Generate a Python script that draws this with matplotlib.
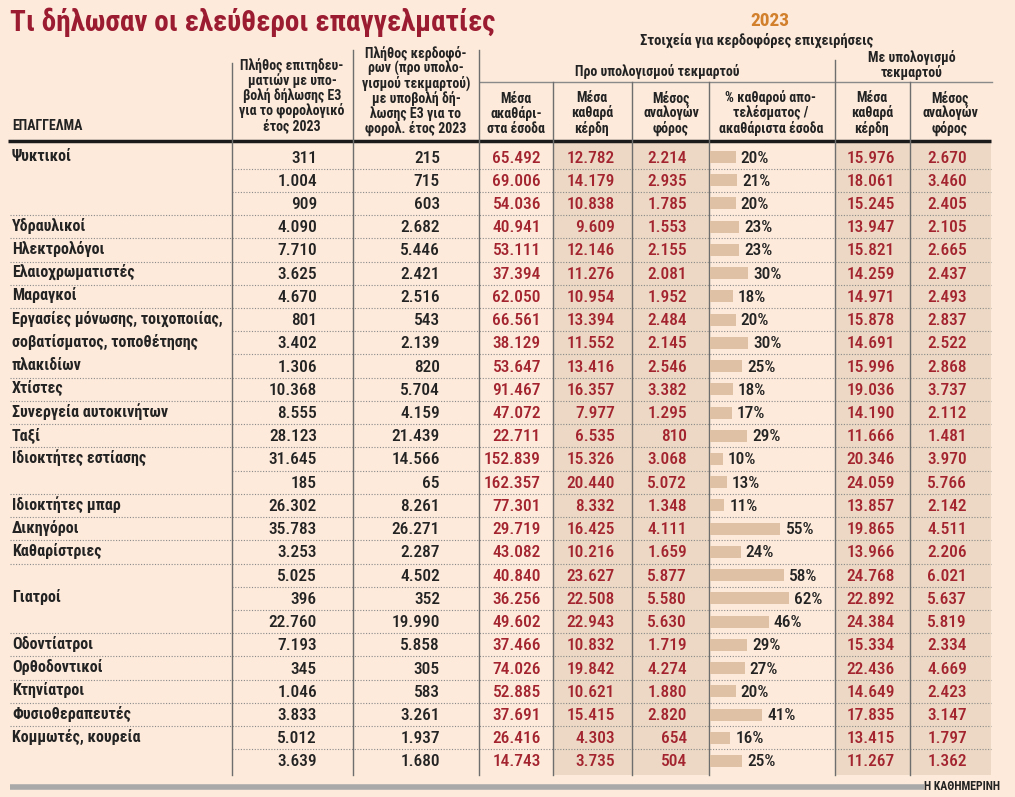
import matplotlib
matplotlib.use('Agg')
import matplotlib.pyplot as plt
from matplotlib import font_manager
from matplotlib.patches import Rectangle

# pick a narrow face if one is installed, else plain Roboto with smaller sizes
available = {f.name for f in font_manager.fontManager.ttflist}
narrow_faces = ['Roboto Condensed', 'Liberation Sans Narrow', 'Fira Sans Condensed',
                'Open Sans Condensed', 'PT Sans Narrow']
face = next((f for f in narrow_faces if f in available), 'Roboto')
scale = 1.0 if face != 'Roboto' else 0.86
plt.rcParams['font.family'] = [face, 'Roboto', 'DejaVu Sans']

# ---- data ----
groups = ["Ψυκτικοί", "Υδραυλικοί", "Ηλεκτρολόγοι", "Ελαιοχρωματιστές", "Μαραγκοί",
          "Εργασίες μόνωσης, τοιχοποιίας,\nσοβατίσματος, τοποθέτησης\nπλακιδίων",
          "Χτίστες", "Συνεργεία αυτοκινήτων", "Ταξί", "Ιδιοκτήτες εστίασης",
          "Ιδιοκτήτες μπαρ", "Δικηγόροι", "Καθαρίστριες", "Γιατροί", "Οδοντίατροι",
          "Ορθοδοντικοί", "Κτηνίατροι", "Φυσιοθεραπευτές", "Κομμωτές, κουρεία"]
group_sizes = [3, 1, 1, 1, 1, 3, 1, 1, 1, 2, 1, 1, 1, 3, 1, 1, 1, 1, 2]
label_offset = [0, 0, 0, 0, 0, 0, 0, 0, 0, 0, 0, 0, 0, 1, 0, 0, 0, 0, 0]

total = [311, 1004, 909, 4090, 7710, 3625, 4670, 801, 3402, 1306, 10368, 8555, 28123,
         31645, 185, 26302, 35783, 3253, 5025, 396, 22760, 7193, 345, 1046, 3833, 5012, 3639]
profitable = [215, 715, 603, 2682, 5446, 2421, 2516, 543, 2139, 820, 5704, 4159, 21439,
              14566, 65, 8261, 26271, 2287, 4502, 352, 19990, 5858, 305, 583, 3261, 1937, 1680]
gross = [65492, 69006, 54036, 40941, 53111, 37394, 62050, 66561, 38129, 53647, 91467, 47072,
         22711, 152839, 162357, 77301, 29719, 43082, 40840, 36256, 49602, 37466, 74026, 52885,
         37691, 26416, 14743]
net = [12782, 14179, 10838, 9609, 12146, 11276, 10954, 13394, 11552, 13416, 16357, 7977, 6535,
       15326, 20440, 8332, 16425, 10216, 23627, 22508, 22943, 10832, 19842, 10621, 15415, 4303, 3735]
tax = [2214, 2935, 1785, 1553, 2155, 2081, 1952, 2484, 2145, 2546, 3382, 1295, 810, 3068, 5072,
       1348, 4111, 1659, 5877, 5580, 5630, 1719, 4274, 1880, 2820, 654, 504]
pct = [20, 21, 20, 23, 23, 30, 18, 20, 30, 25, 18, 17, 29, 10, 13, 11, 55, 24, 58, 62, 46, 29,
       27, 20, 41, 16, 25]
net_presumed = [15976, 18061, 15245, 13947, 15821, 14259, 14971, 15878, 14691, 15996, 19036,
                14190, 11666, 20346, 24059, 13857, 19865, 13966, 24768, 22892, 24384, 15334,
                22436, 14649, 17835, 13415, 11267]
tax_presumed = [2670, 3460, 2405, 2105, 2665, 2437, 2493, 2837, 2522, 2868, 3737, 2112, 1481,
                3970, 5766, 2142, 4511, 2206, 6021, 5637, 5819, 2334, 4669, 2423, 3147, 1797, 1362]

head1 = "Πλήθος επιτηδευ-\nματιών με υπο-\nβολή δήλωσης Ε3\nγια το φορολογικό\nέτος 2023"
head2 = "Πλήθος κερδοφό-\nρων (προ υπολο-\nγισμού τεκμαρτού)\nμε υποβολή δή-\nλωσης Ε3 για το\nφορολ. έτος 2023"
subheads = ["Μέσα\nακαθάρι-\nστα έσοδα", "Μέσα\nκαθαρά\nκέρδη", "Μέσος\nαναλογών\nφόρος",
            "% καθαρού απο-\nτελέσματος /\nακαθάριστα έσοδα", "Μέσα\nκαθαρά\nκέρδη",
            "Μέσος\nαναλογών\nφόρος"]

BG = '#fdeadb'
SHADE = '#ecd8c4'
BAR = '#dfc2a5'
RED = '#a3242f'
DARK = '#232323'
GRID = '#8a8a8a'


def fmt(v):
    return f"{v:,}".replace(",", ".")


fig = plt.figure(figsize=(10.15, 7.97), dpi=100, facecolor=BG)
ax = fig.add_axes([0, 0, 1, 1])
ax.set_xlim(0, 1015)
ax.set_ylim(797, 0)
ax.axis('off')

n = len(total)
row0, step = 157, 23.23
ys = [row0 + i * step for i in range(n)]
top, bottom = 142, 775

# shaded columns
for x0, x1 in [(553, 632), (632, 709), (835, 910), (910, 991)]:
    ax.add_patch(Rectangle((x0, top), x1 - x0, bottom - top, color=SHADE, lw=0, zorder=0))

# title block
ax.text(10, 22, "Τι δήλωσαν οι ελεύθεροι επαγγελματίες", fontsize=21 * scale, fontweight='bold',
        color='#9b1c30', va='center', ha='left')
ax.text(770, 21, "2023", fontsize=14 * scale, fontweight='bold', color='#d2802c',
        ha='center', va='center')
ax.text(757, 40, "Στοιχεία για κερδοφόρες επιχειρήσεις", fontsize=10.5 * scale, fontweight='bold',
        color=DARK, ha='center', va='center')

# header texts
hs = 10 * scale
hk = dict(fontsize=hs, fontweight='bold', color=DARK, ha='center', va='bottom', linespacing=1.0)
ax.text(12, 133, "ΕΠΑΓΓΕΛΜΑ", fontsize=hs, fontweight='bold', color=DARK, ha='left', va='bottom')
ax.text(292, 133, head1, **hk)
ax.text(416, 136, head2, **hk)
ax.text(657, 71, "Προ υπολογισμού τεκμαρτού", **{**hk, 'va': 'center'})
ax.text(912, 65, "Με υπολογισμό\nτεκμαρτού", **{**hk, 'va': 'center'})
for xc, s in zip([516, 592, 671, 771, 872, 950], subheads):
    ax.text(xc, 136, s, **{**hk, 'linespacing': 1.05})

# frame lines
ax.plot([8, 991], [141, 141], color='#1a1a1a', lw=2.5, solid_capstyle='butt')
ax.plot([480, 992], [82, 82], color=GRID, lw=1)
lk = dict(color='#6e6e6e', lw=1)
ax.plot([232, 232], [63, bottom], **lk)
ax.plot([353, 353], [50, bottom], **lk)
ax.plot([479, 479], [50, bottom], **lk)
ax.plot([835, 835], [60, bottom], **lk)
for x in [553, 632, 709, 910]:
    ax.plot([x, x], [82, bottom], **lk)
ax.plot([10, 924], [787, 787], color='#a9a9a9', lw=4, solid_capstyle='butt')
ax.text(1000, 787, "Η ΚΑΘΗΜΕΡΙΝΗ", fontsize=8.5 * scale, fontweight='bold', color=DARK,
        ha='right', va='center')

# row separators and occupation labels
start = 0
for g, size in enumerate(group_sizes):
    for k in range(size):
        i = start + k
        if i == n - 1:
            continue
        ysep = (ys[i] + ys[i + 1]) / 2
        x0 = 10 if k == size - 1 else 232
        ax.plot([x0, 991], [ysep, ysep], color=GRID, lw=0.8, ls=(0, (1, 1.5)), zorder=1)
    for j, line in enumerate(groups[g].split('\n')):
        ax.text(12, ys[start + label_offset[g] + j] - 1, line, fontsize=11.5 * scale,
                fontweight='bold', color=DARK, ha='left', va='center')
    start += size

# numbers
nk = dict(fontsize=12.5 * scale, fontweight='medium', va='center', ha='right')
cols = [(317, total, DARK), (440, profitable, DARK), (541, gross, RED), (615, net, RED),
        (687, tax, RED), (895, net_presumed, RED), (967, tax_presumed, RED)]
for xr, vals, c in cols:
    for y, v in zip(ys, vals):
        ax.text(xr, y + 1, fmt(v), color=c, **nk)

# percentage bars in their own axes
bax = fig.add_axes([710 / 1015, 0, 125 / 1015, 1])
bax.set_xlim(0, 125 / 1.28)
bax.set_ylim(797, 0)
bax.axis('off')
bax.barh(ys, pct, height=12, color=BAR, zorder=2)
for y, p in zip(ys, pct):
    bax.text(p + 4, y + 1, f"{p}%", color=DARK, fontsize=12.5 * scale, fontweight='medium',
             va='center', ha='left')

fig.savefig('out.png', dpi=100, facecolor=BG)
